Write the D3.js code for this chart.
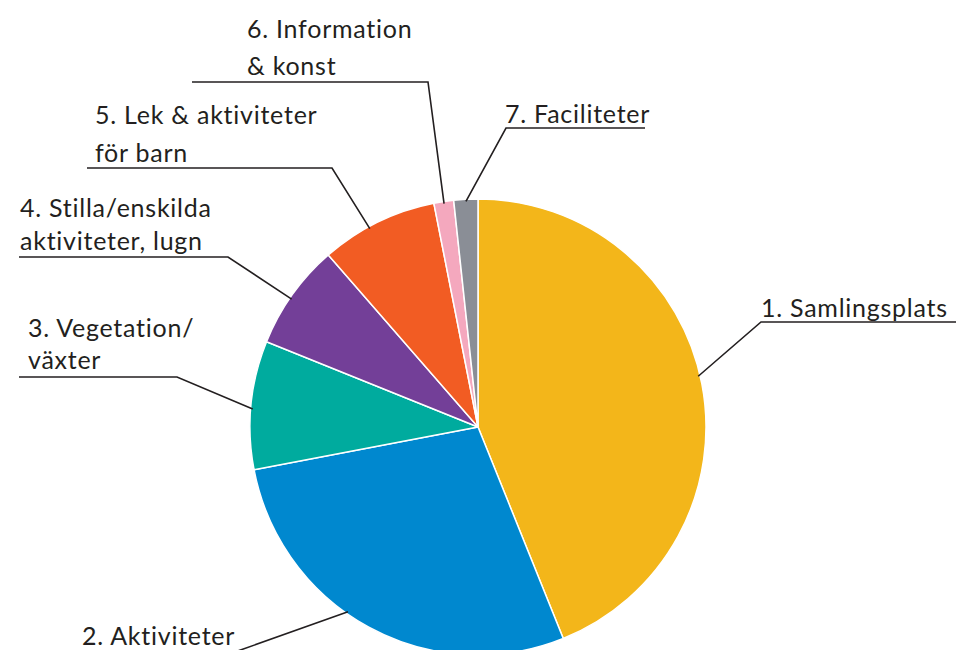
<!DOCTYPE html>
<html>
<head>
<meta charset="utf-8">
<script src="https://cdn.jsdelivr.net/npm/d3@7"></script>
<style>
  html, body { margin: 0; padding: 0; background: #fff; }
  svg { display: block; }
</style>
</head>
<body>
<div id="chart"></div>
<script>
// data (share of answers, %)
const categories = [
  "1. Samlingsplats",
  "2. Aktiviteter",
  "3. Vegetation/ växter",
  "4. Stilla/enskilda aktiviteter, lugn",
  "5. Lek & aktiviteter för barn",
  "6. Information & konst",
  "7. Faciliteter"
];
const values = [43.9, 28.1, 9.1, 7.5, 8.3, 1.4, 1.7];
const labelLines = [
  ["1. Samlingsplats"],
  ["2. Aktiviteter"],
  ["3. Vegetation/", "växter"],
  ["4. Stilla/enskilda", "aktiviteter, lugn"],
  ["5. Lek & aktiviteter", "för barn"],
  ["6. Information", "& konst"],
  ["7. Faciliteter"]
];
const colors = ["#F3B61A", "#0088CF", "#00AB9E", "#733F98", "#F25C23", "#F4A8BE", "#8A8E96"];

// label layout: text x, baselines, underline y / x-range, which end the leader leaves from
const labelLayout = [
  { x: 761, base: [317],      uy: 322, ux0: 761, ux1: 960, side: "left",  shift: -2 },
  { x: 82,  base: [645],      uy: 653, ux0: 74,  ux1: 232, side: "right", shift: 6.5 },
  { x: 28,  base: [337, 369], uy: 377, ux0: 19,  ux1: 177, side: "right", shift: -1 },
  { x: 20,  base: [217, 250], uy: 257, ux0: 19,  ux1: 228, side: "right", shift: -1 },
  { x: 95,  base: [124, 162], uy: 168, ux0: 87,  ux1: 332, side: "right", shift: -2.5 },
  { x: 247, base: [38, 75],   uy: 82,  ux0: 192, ux1: 428, side: "right", shift: 0 },
  { x: 505, base: [123],      uy: 128, ux0: 506, ux1: 645, side: "left",  shift: 0 }
];

const width = 956, height = 650;
const cx = 478, cy = 427, radius = 228;

const svg = d3.select("#chart")
  .append("svg")
  .attr("width", width)
  .attr("height", height);

const data = values.map((v, i) => ({ name: categories[i], value: v, i }));

const pie = d3.pie().sort(null).value(d => d.value);
const arcs = pie(data);

const arc = d3.arc().innerRadius(0).outerRadius(radius);

const g = svg.append("g").attr("transform", `translate(${cx},${cy})`);

g.selectAll("path.slice")
  .data(arcs)
  .enter()
  .append("path")
  .attr("class", "slice")
  .attr("d", arc)
  .attr("fill", d => colors[d.data.i])
  .attr("stroke", "#fff")
  .attr("stroke-width", 1.5)
  .attr("stroke-linejoin", "round");

// leader lines: from a point just inside the rim to the end of the underline
const rimR = radius - 2;
const leaders = svg.append("g");
arcs.forEach(d => {
  const L = labelLayout[d.data.i];
  const a = (d.startAngle + d.endAngle) / 2 + L.shift * Math.PI / 180;
  const px = cx + rimR * Math.sin(a);
  const py = cy - rimR * Math.cos(a);
  const ex = L.side === "left" ? L.ux0 : L.ux1;
  const line = d3.line();
  const pts = L.side === "left"
    ? [[px, py], [ex, L.uy], [L.ux1, L.uy]]
    : [[L.ux0, L.uy], [ex, L.uy], [px, py]];
  leaders.append("path")
    .attr("d", line(pts))
    .attr("fill", "none")
    .attr("stroke", "#231F20")
    .attr("stroke-width", 1.6);
});

// labels
const labels = svg.append("g")
  .style("font-family", "Lato, 'Open Sans', sans-serif")
  .style("font-size", "25px")
  .style("letter-spacing", "0.75px")
  .style("fill", "#231F20");

labelLines.forEach((lines, i) => {
  const L = labelLayout[i];
  lines.forEach((t, j) => {
    labels.append("text")
      .attr("x", L.x)
      .attr("y", L.base[j])
      .text(t);
  });
});
</script>
</body>
</html>
